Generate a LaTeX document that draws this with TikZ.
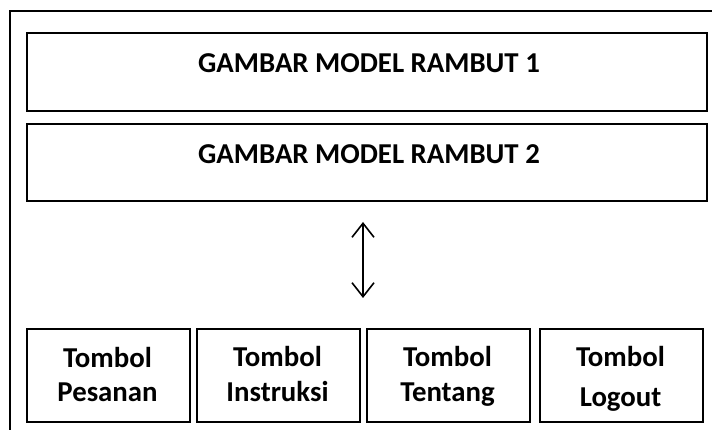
\documentclass[tikz,border=0pt]{standalone}
\usepackage{fontspec}
\setmainfont{Carlito}
\usetikzlibrary{arrows.meta}
\begin{document}
\begin{tikzpicture}[x=1pt,y=-1pt,
  box/.style={draw=black,line width=1.6pt,inner sep=0pt,anchor=north west},
  lbl/.style={font=\fontsize{28.8}{34}\selectfont\bfseries,anchor=base,inner sep=0pt}]
\useasboundingbox (0,0) rectangle (712,430);
% outer frame (runs off the right and bottom edges)
\coordinate (ftr) at (712,11);
\coordinate (ftl) at (10,11);
\coordinate (fbl) at (10,430);
\draw[line width=1.8pt] (ftr) -- (ftl) -- (fbl);
% top boxes
\node[box,minimum width=680pt,minimum height=78pt] (g1) at (26,32) {};
\node[box,minimum width=680pt,minimum height=77pt] (g2) at (26,123) {};
\node[lbl] (t1) at (369,73) {GAMBAR MODEL RAMBUT 1};
\node[lbl] (t2) at (369,164) {GAMBAR MODEL RAMBUT 2};
% arrow
\coordinate (aT) at (363,222);
\coordinate (aB) at (363,298);
\draw[line width=1.6pt,{Straight Barb[length=14pt,width=22pt,line width=1.6pt]}-{Straight Barb[length=14pt,width=22pt,line width=1.6pt]}] (aT) -- (aB);
% bottom buttons
\node[box,minimum width=163pt,minimum height=93pt] (b1) at (26,328) {};
\node[box,minimum width=163pt,minimum height=93pt] (b2) at (196,328) {};
\node[box,minimum width=163pt,minimum height=93pt] (b3) at (366,328) {};
\node[box,minimum width=163pt,minimum height=93pt] (b4) at (539,328) {};
\node[lbl] (b1a) at (107.5,367) {Tombol};
\node[lbl] (b1b) at (107.5,401) {Pesanan};
\node[lbl] (b2a) at (277.5,366) {Tombol};
\node[lbl] (b2b) at (277.5,401) {Instruksi};
\node[lbl] (b3a) at (447.5,366) {Tombol};
\node[lbl] (b3b) at (447.5,401) {Tentang};
\node[lbl] (b4a) at (620.5,366) {Tombol};
\node[lbl] (b4b) at (620.5,406) {Logout};
\end{tikzpicture}
\end{document}
